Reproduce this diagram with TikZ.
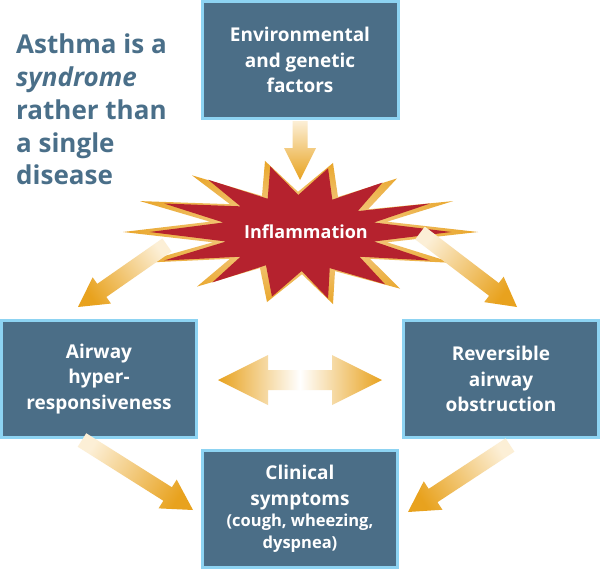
\documentclass[tikz,border=0pt]{standalone}
\usepackage{fontspec}
\setmainfont{Open Sans}
\usetikzlibrary{calc}
\definecolor{boxfill}{HTML}{4B6E87}
\definecolor{boxline}{HTML}{8DD3F2}
\definecolor{headtxt}{HTML}{4A6F89}
\definecolor{starred}{HTML}{B5222E}
\definecolor{staror}{HTML}{E9A62A}
\definecolor{starcream}{HTML}{F8DDB0}
\definecolor{cream}{HTML}{FCEFD6}
\definecolor{arror}{HTML}{E8A21E}
\newcommand\starpath{(-35,69) -- (-2,39) -- (33,67) -- (38,34) -- (97,52) -- (68,22) -- (153,30) -- (87,10) -- (178,0) -- (87,-10) -- (153,-30) -- (70,-26) -- (100,-55) -- (35,-38) -- (33,-70) -- (2,-41) -- (-33,-68) -- (-40,-35) -- (-103,-53) -- (-70,-26) -- (-160,-30) -- (-87,-10) -- (-177,0) -- (-90,10) -- (-160,30) -- (-70,27) -- (-108,55) -- (-38,35) -- cycle}
% tail, tip, half shaft, half head, head length, shading angle
\newcommand\fatarrow[6]{%
  \coordinate (N) at ($(#2)!#5!(#1)$);
  \shade[top color=cream, bottom color=arror, shading angle=#6]
    ($(#1)!#3!90:(#2)$) -- ($(N)!#3!90:(#2)$) -- ($(N)!#4!90:(#2)$) -- (#2)
    -- ($(N)!#4!-90:(#2)$) -- ($(N)!#3!-90:(#2)$) -- ($(#1)!#3!-90:(#2)$) -- cycle;
}
\tikzset{
  box/.style={draw=boxline, line width=3pt, fill=boxfill, text=white, align=center,
    inner sep=0pt, minimum width=195pt, minimum height=117pt,
    font=\bfseries\fontsize{19}{25.5}\selectfont},
}
\begin{document}
\begin{tikzpicture}[x=1pt,y=1pt]
\fill[white] (0,0) rectangle (600,-570);
\path[use as bounding box] (0,0) rectangle (600,-570);

% headline
\node[anchor=north west, align=left, inner sep=0pt, text=headtxt,
  font=\bfseries\fontsize{26}{32.7}\selectfont] (head) at (16,-34)
  {Asthma is a\\\textit{syndrome}\\rather than\\a single\\disease};

% boxes
\node[box, minimum width=196pt] (env) at (300,-60) {Environmental\\and genetic\\factors};
\node[box] (ahr) at (99,-379) {Airway\\hyper-\\responsiveness};
\node[box] (rao) at (501,-379) {Reversible\\airway\\obstruction};
\node[box] (cli) at (300,-509) {Clinical\\symptoms\\[-4pt]{\fontsize{16.5}{21}\selectfont (cough, wheezing,}\\[-4pt]{\fontsize{16.5}{21}\selectfont dyspnea)}};

% starburst
\shade[inner color=starcream, outer color=staror, shift={(300,-232)}, xscale=1.0, yscale=1.03] \starpath;
\fill[starred, shift={(300,-232)}, xscale=0.85, yscale=0.95] \starpath;
\node[text=white, font=\bfseries\fontsize{18}{22}\selectfont, inner sep=0pt] (infl) at (306,-232) {Inflammation};

% arrow end points
\coordinate (t1) at (300,-121); \coordinate (h1) at (300,-180);
\coordinate (t2) at (167,-245); \coordinate (h2) at (78,-307);
\coordinate (t3) at (420,-233); \coordinate (h3) at (517,-307);
\coordinate (t4) at (82,-440);  \coordinate (h4) at (193,-510);
\coordinate (t5) at (510,-445); \coordinate (h5) at (408,-512);
\coordinate (dl) at (218,-380); \coordinate (dr) at (382,-380);

\fatarrow{t1}{h1}{7.5pt}{16pt}{32pt}{0}
\fatarrow{t2}{h2}{8pt}{16pt}{29pt}{304.9}
\fatarrow{t3}{h3}{8pt}{16pt}{29pt}{52.7}
\fatarrow{t4}{h4}{8pt}{17pt}{30pt}{57.8}
\fatarrow{t5}{h5}{8pt}{17pt}{30pt}{-56.7}

\shade[left color=arror, right color=arror, middle color=white]
  (dl) -- ($(dl)+(50,25)$) -- ($(dl)+(50,10)$) -- ($(dr)+(-50,10)$) -- ($(dr)+(-50,25)$)
  -- (dr) -- ($(dr)+(-50,-25)$) -- ($(dr)+(-50,-10)$) -- ($(dl)+(50,-10)$) -- ($(dl)+(50,-25)$) -- cycle;
\end{tikzpicture}
\end{document}
